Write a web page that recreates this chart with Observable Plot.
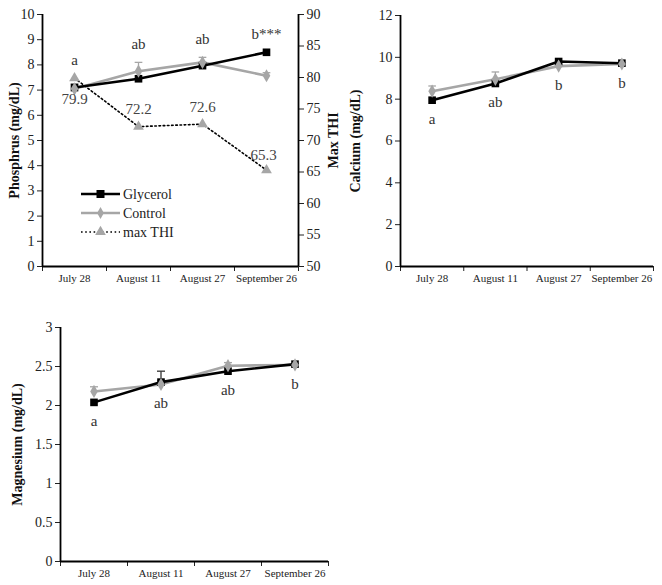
<!DOCTYPE html>
<html>
<head>
<meta charset="utf-8">
<script src="https://cdn.jsdelivr.net/npm/d3@7"></script>
<script src="https://cdn.jsdelivr.net/npm/@observablehq/plot@0.6"></script>
<style>
  body { margin: 0; background: #fff; }
  #wrap { position: relative; width: 662px; height: 585px; background: #fff; font-family: "Liberation Serif", serif; }
  .panel { position: absolute; }
</style>
</head>
<body>
<div id="wrap">
  <div class="panel" id="p1" style="left:0;top:0"></div>
  <div class="panel" id="p2" style="left:340px;top:0"></div>
  <div class="panel" id="p3" style="left:0;top:290px"></div>
  <div class="panel" id="legend" style="left:78px;top:184px"></div>
</div>
<script>
// ---------- data ----------
const dates = ["July 28", "August 11", "August 27", "September 26"];
const seriesNames = ["Glycerol", "Control", "max THI"];

const phosGlycerol = [7.1, 7.45, 7.97, 8.5];
const phosControl = [7.05, 7.75, 8.1, 7.57];
const phosControlErr = [0.2, 0.35, 0.2, 0.12];
const phosGlycerolErr = [0, 0, 0, 0];
const phosLetters = ["a", "ab", "ab", "b***"];
const maxTHI = [79.9, 72.2, 72.6, 65.3];
const thiTicks = [50, 55, 60, 65, 70, 75, 80, 85, 90];
const phosTicks = [0, 1, 2, 3, 4, 5, 6, 7, 8, 9, 10];

const caGlycerol = [7.95, 8.75, 9.8, 9.72];
const caControl = [8.38, 8.95, 9.58, 9.68];
const caControlErr = [0.25, 0.35, 0.05, 0.05];
const caGlycerolErr = [0, 0, 0, 0];
const caLetters = ["a", "ab", "b", "b"];
const caTicks = [0, 2, 4, 6, 8, 10, 12];

const mgGlycerol = [2.04, 2.3, 2.44, 2.53];
const mgControl = [2.18, 2.27, 2.51, 2.52];
const mgControlErr = [0.06, 0.05, 0.04, 0.02];
const mgGlycerolErr = [0, 0.14, 0, 0];
const mgLetters = ["a", "ab", "ab", "b"];
const mgTicks = [0, 0.5, 1, 1.5, 2, 2.5, 3];

// ---------- styles ----------
const BLACK = "#000";
const GRAY = "#a6a6a6";
const FONT = "Liberation Serif";

function panel(opts) {
  const idx = dates.map((d, i) => i);
  const gly = idx.map(i => ({i, v: opts.gly[i], e: opts.glyErr[i]}));
  const ctl = idx.map(i => ({i, v: opts.ctl[i], e: opts.ctlErr[i]}));
  const extra = opts.extraTop || idx.map(() => -Infinity);
  const lab = idx.map(i => ({
    i,
    t: opts.letters[i],
    v: opts.letterSide === "above"
      ? Math.max(opts.gly[i] + opts.glyErr[i], opts.ctl[i] + opts.ctlErr[i], extra[i])
      : Math.min(opts.gly[i], opts.ctl[i])
  }));
  const yMax = opts.ticks[opts.ticks.length - 1];
  const marks = [];
  marks.push(...(opts.before || []));
  // error bars
  const errMarks = (data, color) => [
    Plot.link(data.filter(d => d.e > 0), {x1: "i", x2: "i", y1: "v", y2: d => d.v + d.e, stroke: color, strokeWidth: 1.3}),
    Plot.link(data.filter(d => d.e > 0), {x1: d => d.i - 0.06, x2: d => d.i + 0.06, y1: d => d.v + d.e, y2: d => d.v + d.e, stroke: color, strokeWidth: 1.3})
  ];
  marks.push(...errMarks(ctl, GRAY));
  marks.push(...errMarks(gly, "#333"));
  marks.push(Plot.line(ctl, {x: "i", y: "v", stroke: GRAY, strokeWidth: 2.6}));
  marks.push(Plot.line(gly, {x: "i", y: "v", stroke: BLACK, strokeWidth: 2.6}));
  marks.push(Plot.dot(gly, {x: "i", y: "v", symbol: "square", fill: BLACK, r: 4.3}));
  marks.push(Plot.dot(ctl, {x: "i", y: "v", symbol: "diamond", fill: GRAY, r: 4}));
  marks.push(...(opts.after || []));
  // significance letters
  marks.push(Plot.text(lab, {x: "i", y: "v", text: "t", dy: opts.letterDy, fill: "#333", fontSize: 15, fontFamily: FONT}));
  // axes
  marks.push(Plot.axisY({ticks: opts.ticks, tickSize: 5, tickPadding: 3, fontSize: 14, fontFamily: FONT, label: null, tickFormat: d => String(d)}));
  marks.push(Plot.axisX({ticks: [-0.5, 0.5, 1.5, 2.5, 3.5], tickSize: 5, tickFormat: () => "", label: null}));
  marks.push(Plot.axisX({ticks: [0, 1, 2, 3], tickSize: 0, tickPadding: 8, fontSize: 11, fontFamily: FONT, tickFormat: i => dates[i], label: null}));
  marks.push(Plot.ruleX([-0.5], {stroke: BLACK, strokeWidth: 1.8}));
  marks.push(Plot.ruleY([0], {stroke: BLACK, strokeWidth: 1.8}));
  marks.push(Plot.text([opts.title], {frameAnchor: "left", rotate: -90, dx: opts.titleDx, textAnchor: "middle", fontWeight: "bold", fontSize: 14, fontFamily: FONT, fill: "#111"}));
  return Plot.plot({
    width: opts.width,
    height: opts.height,
    marginLeft: opts.ml, marginRight: opts.mr, marginTop: opts.mt, marginBottom: opts.mb,
    style: {fontFamily: FONT, color: "#222", background: "transparent", overflow: "visible"},
    x: {type: "linear", domain: [-0.5, 3.5], axis: null},
    y: {domain: [0, yMax], axis: null},
    marks
  });
}

// ---------- panel 1 : phosphorus + THI ----------
const thiToY = t => (t - thiTicks[0]) / (thiTicks[thiTicks.length - 1] - thiTicks[0]) * phosTicks[phosTicks.length - 1];
const thiData = maxTHI.map((t, i) => ({i, y: thiToY(t), t}));
const p1 = panel({
  gly: phosGlycerol, ctl: phosControl, ctlErr: phosControlErr, glyErr: phosGlycerolErr,
  extraTop: thiData.map(d => d.y),
  ticks: phosTicks, title: "Phosphrus (mg/dL)", letters: phosLetters,
  letterSide: "above", letterDy: -18,
  width: 340, height: 290, ml: 42, mr: 42, mt: 14, mb: 24, titleDx: -28,
  before: [
    Plot.line(thiData, {x: "i", y: "y", stroke: BLACK, strokeWidth: 1.6, strokeDasharray: "1.6,2.6"})
  ],
  after: [
    Plot.dot(thiData, {x: "i", y: "y", symbol: "triangle", fill: GRAY, r: 4}),
    Plot.text(thiData.filter(d => d.i === 0), {x: "i", y: "y", text: d => d.t.toFixed(1), dy: 21, fill: "#444", fontSize: 15, fontFamily: FONT}),
    Plot.text(thiData.filter(d => d.i === 1 || d.i === 2), {x: "i", y: "y", text: d => d.t.toFixed(1), dy: -17, fill: "#444", fontSize: 15, fontFamily: FONT}),
    Plot.text(thiData.filter(d => d.i === 3), {x: "i", y: "y", text: d => d.t.toFixed(1), dy: -15, dx: -3, fill: "#444", fontSize: 15, fontFamily: FONT}),
    Plot.axisY({anchor: "right", ticks: thiTicks.map(thiToY), tickFormat: d => String(Math.round(d * 4 + 50)), tickSize: 5, tickPadding: 3, fontSize: 14, fontFamily: FONT, label: null}),
    Plot.ruleX([3.5], {stroke: BLACK, strokeWidth: 1.8}),
    Plot.text(["Max THI"], {frameAnchor: "right", rotate: -90, dx: 35, textAnchor: "middle", fontWeight: "bold", fontSize: 14, fontFamily: FONT, fill: "#111"})
  ]
});
document.getElementById("p1").appendChild(p1);

// ---------- panel 2 : calcium ----------
const p2 = panel({
  gly: caGlycerol, ctl: caControl, ctlErr: caControlErr, glyErr: caGlycerolErr,
  ticks: caTicks, title: "Calcium (mg/dL)", letters: caLetters,
  letterSide: "below", letterDy: 19,
  width: 322, height: 290, ml: 60, mr: 9, mt: 15, mb: 24, titleDx: -45
});
document.getElementById("p2").appendChild(p2);

// ---------- panel 3 : magnesium ----------
const p3 = panel({
  gly: mgGlycerol, ctl: mgControl, ctlErr: mgControlErr, glyErr: mgGlycerolErr,
  ticks: mgTicks, title: "Magnesium (mg/dL)", letters: mgLetters,
  letterSide: "below", letterDy: 19,
  width: 340, height: 295, ml: 60, mr: 12, mt: 37, mb: 24, titleDx: -43
});
document.getElementById("p3").appendChild(p3);

// ---------- legend ----------
const lg = d3.select("#legend").append("svg").attr("width", 120).attr("height", 60)
  .style("font-family", FONT).style("overflow", "visible");
const legendStyles = [
  {stroke: BLACK, width: 2.6, dash: null, sym: d3.symbolSquare, fill: BLACK, size: 64},
  {stroke: GRAY, width: 2.6, dash: null, sym: d3.symbolDiamond, fill: GRAY, size: 40},
  {stroke: BLACK, width: 1.6, dash: "1.6,2.6", sym: d3.symbolTriangle, fill: GRAY, size: 50}
];
seriesNames.forEach((name, k) => {
  const s = legendStyles[k];
  const g = lg.append("g").attr("transform", `translate(0,${10 + k * 19})`);
  g.append("line").attr("x1", 3).attr("x2", 42).attr("stroke", s.stroke).attr("stroke-width", s.width)
    .attr("stroke-dasharray", s.dash);
  g.append("path").attr("d", d3.symbol(s.sym, s.size)()).attr("transform", "translate(22.5,0)").attr("fill", s.fill);
  g.append("text").attr("x", 45).attr("dy", "0.35em").attr("font-size", 14).attr("fill", "#222").text(name);
});
</script>
</body>
</html>
